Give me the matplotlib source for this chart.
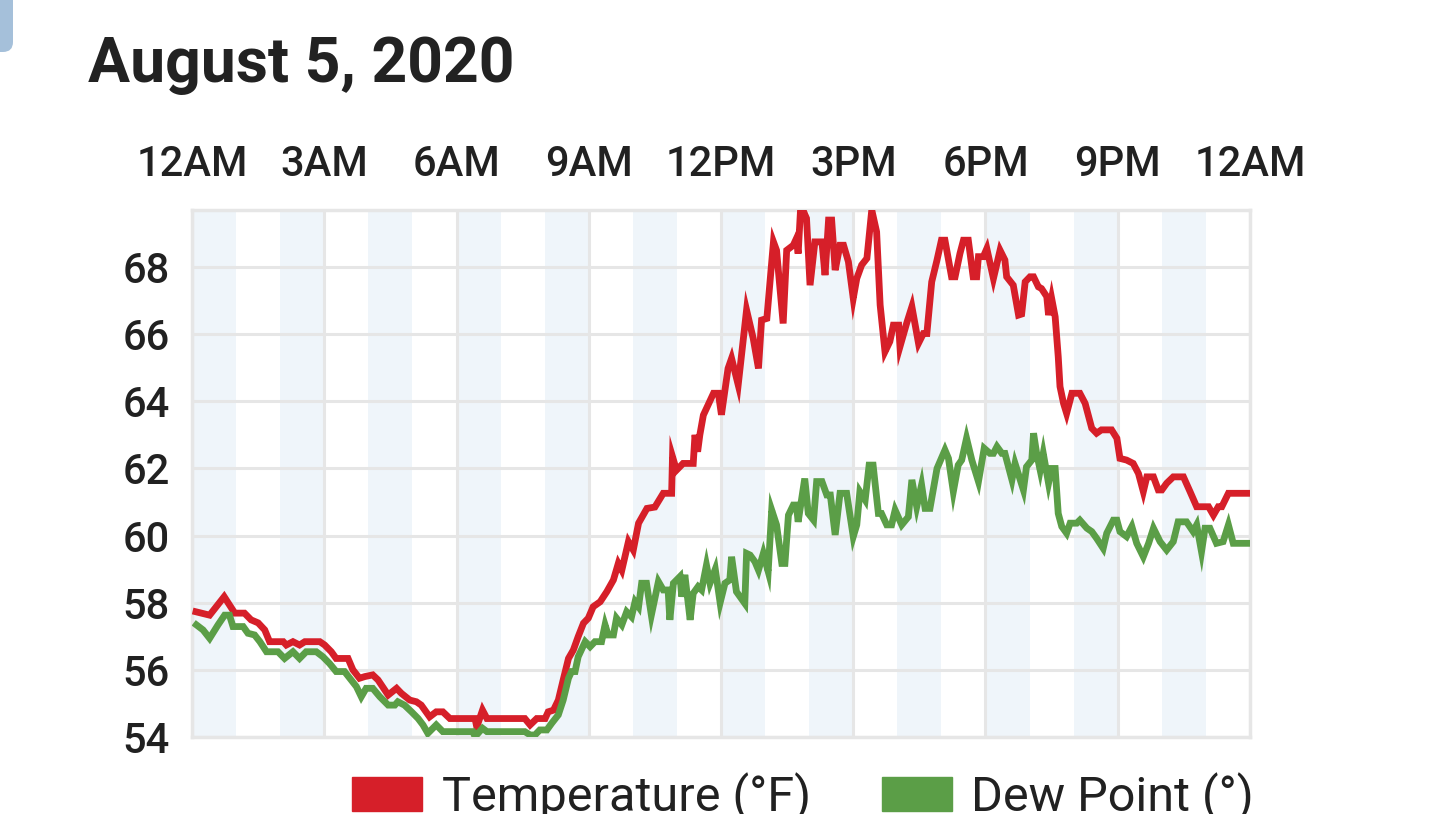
import matplotlib
matplotlib.use("Agg")
import matplotlib.pyplot as plt
from matplotlib.patches import Patch, FancyBboxPatch
from matplotlib.transforms import IdentityTransform

plt.rcParams['font.family'] = ['Roboto', 'DejaVu Sans']

# readings, hours after midnight -> degrees F
temp_hours = [
    0.09, 0.40, 0.73, 0.97, 1.19, 1.34, 1.50, 1.65, 1.76, 2.07, 2.14, 2.29, 2.44, 2.56, 2.90,
    3.01, 3.16, 3.27, 3.54, 3.65, 3.80, 3.92, 4.10, 4.22, 4.45, 4.64, 4.75, 4.94, 5.09, 5.20,
    5.39, 5.54, 5.69, 5.85, 6.42, 6.46, 6.59, 6.69, 7.55, 7.67, 7.82, 8.01, 8.08, 8.20, 8.31,
    8.42, 8.54, 8.65, 8.76, 8.88, 8.99, 9.10, 9.26, 9.41, 9.56, 9.67, 9.75, 9.90, 10.01, 10.13,
    10.32, 10.50, 10.69, 10.88, 10.90, 10.99, 11.14, 11.37, 11.41, 11.47, 11.52, 11.60, 11.83,
    11.94, 12.01, 12.16, 12.24, 12.39, 12.58, 12.73, 12.85, 12.92, 13.04, 13.19, 13.26, 13.41,
    13.49, 13.64, 13.71, 13.75, 13.81, 13.94, 14.02, 14.13, 14.29, 14.36, 14.44, 14.51, 14.59,
    14.70, 14.78, 14.89, 15.00, 15.08, 15.19, 15.31, 15.42, 15.53, 15.61, 15.72, 15.83, 15.91,
    16.03, 16.06, 16.21, 16.33, 16.48, 16.59, 16.67, 16.78, 16.90, 17.00, 17.08, 17.23, 17.31,
    17.42, 17.50, 17.61, 17.72, 17.80, 17.84, 17.95, 18.03, 18.18, 18.33, 18.44, 18.48, 18.63,
    18.75, 18.82, 18.90, 19.01, 19.09, 19.20, 19.27, 19.39, 19.43, 19.50, 19.58, 19.65, 19.69,
    19.77, 19.84, 19.96, 20.14, 20.26, 20.41, 20.52, 20.63, 20.86, 20.98, 21.05, 21.20, 21.35,
    21.47, 21.58, 21.66, 21.81, 21.92, 22.00, 22.11, 22.26, 22.49, 22.64, 22.79, 23.06, 23.17,
    23.28, 23.36, 23.51, 23.96,
]
temp_values = [
    57.73, 57.63, 58.18, 57.69, 57.69, 57.49, 57.40, 57.19, 56.84, 56.84, 56.74, 56.84, 56.74, 56.84, 56.84,
    56.74, 56.54, 56.34, 56.34, 56.00, 55.75, 55.80, 55.85, 55.70, 55.25, 55.45, 55.30, 55.10, 55.05, 54.95,
    54.60, 54.75, 54.75, 54.55, 54.55, 54.30, 54.80, 54.55, 54.55, 54.36, 54.55, 54.55, 54.75, 54.80, 55.10,
    55.70, 56.34, 56.59, 56.99, 57.39, 57.54, 57.88, 58.03, 58.33, 58.68, 59.17, 58.97, 59.82, 59.57, 60.37,
    60.81, 60.85, 61.26, 61.26, 62.35, 61.95, 62.15, 62.15, 63.00, 62.50, 63.00, 63.59, 64.24,
    64.24, 63.60, 64.98, 65.28, 64.49, 66.72, 65.88, 64.98, 66.42, 66.47, 68.75, 68.50, 66.32,
    68.50, 68.65, 68.85, 68.40, 69.85, 69.45, 67.46, 68.75, 68.75, 67.76, 69.40, 69.40, 67.91,
    68.65, 68.65, 68.16, 67.07, 67.66, 68.06, 68.26, 69.70, 69.05, 66.87, 65.48, 65.78, 66.27,
    66.27, 65.63, 66.32, 66.82, 65.73, 66.02, 66.02, 67.56, 68.21, 68.80, 68.80, 67.71, 67.71,
    68.40, 68.80, 68.80, 67.71, 67.71, 68.31, 68.31, 68.55, 67.66, 68.50, 68.21, 67.71, 67.46,
    66.57, 66.60, 67.56, 67.71, 67.71, 67.41, 67.36, 67.12, 66.57, 67.07, 66.52, 65.33, 64.44,
    63.94, 63.64, 64.24, 64.24, 63.94, 63.20, 63.05, 63.15, 63.15, 62.90, 62.30, 62.25, 62.15,
    61.85, 61.31, 61.75, 61.75, 61.36, 61.36, 61.56, 61.75, 61.75, 61.31, 60.86, 60.86, 60.61,
    60.86, 60.86, 61.26, 61.26,
]

dew_hours = [
    0.10, 0.25, 0.40, 0.59, 0.74, 0.85, 0.93, 1.16, 1.27, 1.42, 1.54, 1.69, 1.95, 2.10, 2.29,
    2.44, 2.59, 2.82, 2.97, 3.12, 3.27, 3.46, 3.61, 3.73, 3.84, 3.95, 4.10, 4.26, 4.45, 4.60,
    4.67, 4.82, 4.98, 5.13, 5.24, 5.35, 5.54, 5.69, 6.37, 6.42, 6.59, 6.69, 7.55, 7.67, 7.78,
    7.89, 8.05, 8.16, 8.31, 8.42, 8.54, 8.61, 8.69, 8.76, 8.92, 9.03, 9.14, 9.29, 9.37, 9.44,
    9.56, 9.63, 9.75, 9.86, 9.97, 10.05, 10.13, 10.20, 10.31, 10.42, 10.58, 10.69, 10.80, 10.84,
    10.92, 11.07, 11.11, 11.18, 11.30, 11.37, 11.48, 11.56, 11.67, 11.75, 11.87, 11.98, 12.09,
    12.20, 12.24, 12.35, 12.54, 12.58, 12.66, 12.77, 12.85, 12.96, 13.07, 13.15, 13.26, 13.38,
    13.45, 13.53, 13.64, 13.71, 13.75, 13.90, 13.98, 14.10, 14.17, 14.29, 14.40, 14.48, 14.59,
    14.70, 14.85, 15.00, 15.08, 15.15, 15.27, 15.36, 15.45, 15.57, 15.64, 15.76, 15.87, 15.95,
    16.10, 16.25, 16.33, 16.44, 16.55, 16.63, 16.74, 16.90, 17.08, 17.16, 17.27, 17.38, 17.46,
    17.57, 17.69, 17.84, 17.97, 18.10, 18.18, 18.26, 18.37, 18.44, 18.60, 18.67, 18.86, 18.93,
    19.05, 19.09, 19.16, 19.24, 19.31, 19.43, 19.50, 19.58, 19.65, 19.73, 19.84, 19.92, 20.07,
    20.14, 20.30, 20.41, 20.52, 20.67, 20.75, 20.90, 20.98, 21.05, 21.20, 21.32, 21.43, 21.58,
    21.70, 21.81, 21.96, 22.11, 22.26, 22.37, 22.56, 22.71, 22.79, 22.90, 22.98, 23.09, 23.24,
    23.39, 23.51, 23.62, 23.96,
]
dew_values = [
    57.34, 57.19, 56.94, 57.34, 57.63, 57.63, 57.29, 57.29, 57.09, 57.04, 56.84, 56.54, 56.54, 56.34, 56.54,
    56.34, 56.54, 56.54, 56.39, 56.19, 55.95, 55.95, 55.70, 55.50, 55.20, 55.45, 55.45, 55.20, 54.95, 54.95,
    55.05, 54.95, 54.75, 54.55, 54.36, 54.11, 54.36, 54.16, 54.16, 54.01, 54.26, 54.16, 54.16, 54.06, 54.06,
    54.21, 54.21, 54.41, 54.66, 55.10, 55.75, 55.95, 55.95, 56.39, 56.84, 56.69, 56.84, 56.84, 57.34, 57.04,
    57.04, 57.54, 57.34, 57.73, 57.58, 58.03, 57.88, 58.58, 58.58, 57.63, 58.63, 58.38, 58.38, 57.49,
    58.58, 58.78, 58.18, 58.83, 57.49, 58.28, 58.48, 58.38, 59.12, 58.58, 59.00, 58.00, 58.58,
    58.68, 59.37, 58.33, 57.98, 59.47, 59.42, 59.22, 58.97, 59.47, 58.93, 60.76, 60.32, 59.17,
    59.17, 60.61, 60.91, 60.91, 60.41, 61.70, 60.66, 60.46, 61.61, 61.61, 61.21, 61.21, 60.02,
    61.26, 61.26, 59.97, 60.32, 61.31, 61.06, 62.10, 62.10, 60.66, 60.66, 60.32, 60.32, 60.76,
    60.32, 60.56, 61.66, 60.86, 61.51, 60.81, 60.81, 62.00, 62.55, 62.30, 61.31, 62.10, 62.25,
    62.90, 62.25, 61.61, 62.60, 62.45, 62.45, 62.65, 62.45, 62.45, 61.66, 62.15, 61.36, 62.05,
    62.25, 63.05, 62.45, 61.95, 62.45, 61.56, 62.00, 62.00, 60.66, 60.27, 60.07, 60.37, 60.37,
    60.46, 60.22, 60.12, 59.92, 59.62, 60.07, 60.46, 60.46, 60.12, 59.97, 60.27, 59.77, 59.37,
    59.77, 60.22, 59.82, 59.57, 59.82, 60.41, 60.41, 60.12, 60.32, 59.52, 60.22, 60.22, 59.77,
    59.82, 60.32, 59.77, 59.77,
]

x_ticks = [0, 3, 6, 9, 12, 15, 18, 21, 24]
x_labels = ["12AM", "3AM", "6AM", "9AM", "12PM", "3PM", "6PM", "9PM", "12AM"]
y_ticks = [54, 56, 58, 60, 62, 64, 66, 68]
series_names = ["Temperature (°F)", "Dew Point (°)"]

RED = "#d61f29"
GREEN = "#5b9e47"
GRID = "#e6e6e6"
TEXT = "#212121"

fig = plt.figure(figsize=(14.33, 8.14), dpi=100)
ax = fig.add_axes([192 / 1433, 1 - 737 / 814, 1058 / 1433, 527 / 814])

# shaded alternate hours
for h in range(0, 24, 2):
    ax.axvspan(h, h + 1, color="#eff5fa", lw=0, zorder=0)

ax.plot(temp_hours, temp_values, color=RED, lw=4.9, solid_joinstyle="miter", zorder=3)
ax.plot(dew_hours, dew_values, color=GREEN, lw=4.9, solid_joinstyle="miter", zorder=3)

ax.set_xlim(0, 24)
ax.set_ylim(54, 69.7)
ax.set_xticks(x_ticks)
ax.set_xticklabels(x_labels)
ax.set_yticks(y_ticks)
ax.xaxis.tick_top()
ax.tick_params(axis="x", length=0, pad=18, labelsize=30, colors=TEXT)
ax.tick_params(axis="y", length=0, pad=16, labelsize=30, colors=TEXT)
for lbl in ax.get_xticklabels() + ax.get_yticklabels():
    lbl.set_fontweight("medium")
ax.grid(True, color=GRID, lw=2.2, zorder=1)
ax.set_axisbelow(True)
for s in ax.spines.values():
    s.set_color(GRID)
    s.set_linewidth(2.5)

fig.text(88 / 1433, 1 - 82 / 814, "August 5, 2020", fontsize=45, fontweight="bold",
         color="#222222", ha="left", va="baseline")

handles = [Patch(color=RED), Patch(color=GREEN)]
fig.legend(handles, series_names, loc="center left",
           bbox_to_anchor=(352 / 1433, 1 - 797 / 814), ncol=2, frameon=False,
           fontsize=35, handlelength=1.44, handleheight=0.72, handletextpad=0.41,
           columnspacing=1.45, borderpad=0, borderaxespad=0, labelcolor=TEXT)

# corner of the neighbouring card
fig.patches.append(FancyBboxPatch((-30, 814 - 52), 43, 90,
                                  boxstyle="round,pad=0,rounding_size=10",
                                  transform=IdentityTransform(), color="#a5c0da",
                                  lw=0, figure=fig))

fig.savefig("out.png", dpi=100)
